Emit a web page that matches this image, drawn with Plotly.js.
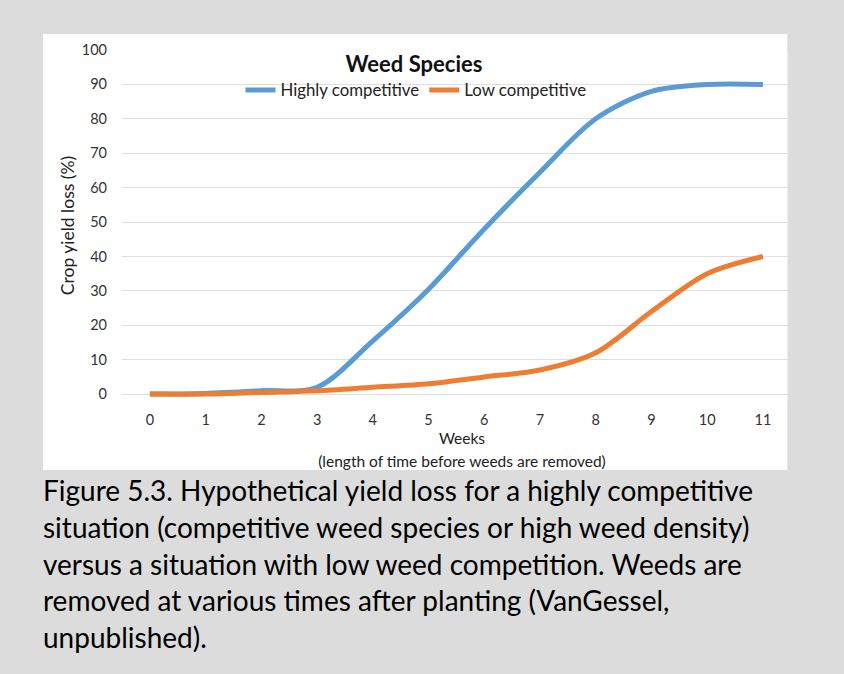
<!DOCTYPE html>
<html><head><meta charset="utf-8">
<script src="https://cdn.plot.ly/plotly-3.0.1.min.js"></script>
<style>html,body{margin:0;padding:0;background:#dcdcdc;} #chart{width:844px;height:674px;}</style>
</head><body><div id="chart"></div>
<script>
// ---- data ----
const weeks = [0, 1, 2, 3, 4, 5, 6, 7, 8, 9, 10, 11];
const weekLabels = ['0', '1', '2', '3', '4', '5', '6', '7', '8', '9', '10', '11'];
const highlyCompetitive = [0, 0.2, 1, 2, 15.5, 30.5, 48, 64.5, 80, 88, 90, 90];
const lowCompetitive = [0, 0, 0.5, 1, 2, 3, 5, 7, 12, 24, 35, 40];
const seriesNames = ['Highly competitive', 'Low competitive'];
const yTickVals = [0, 10, 20, 30, 40, 50, 60, 70, 80, 90, 100];
const chartTitle = 'Weed Species';
const xTitle = 'Weeks';
const xSubtitle = '(length of time before weeds are removed)';
const yTitle = 'Crop yield loss (%)';
const captionLines = [
  'Figure 5.3. Hypothetical yield loss for a highly competitive',
  'situation (competitive weed species or high weed density)',
  'versus a situation with low weed competition. Weeds are',
  'removed at various times after planting (VanGessel,',
  'unpublished).'
];

// ---- layout geometry (pixels) ----
const L = 122, R = 802, T = 50, B = 401;   // plot area (right part is hidden by the page crop)
const W = R - L, H = B - T;
const px = v => (v - L) / W;
const py = v => (B - v) / H;
const FONT = 'Lato, "Liberation Sans", sans-serif';
const GREY = '#dcdcdc';

const traces = [
  {x: weeks, y: highlyCompetitive, name: seriesNames[0], type: 'scatter', mode: 'lines',
   line: {color: '#5B9BD5', width: 5, shape: 'spline', smoothing: 0.9}},
  {x: weeks, y: lowCompetitive, name: seriesNames[1], type: 'scatter', mode: 'lines',
   line: {color: '#ED7D31', width: 5, shape: 'spline', smoothing: 0.9}}
];

const captionY0 = 490, captionStep = 36.8;
const annotations = captionLines.map((t, i) => ({
  text: t, xref: 'paper', yref: 'paper', x: px(42), y: py(captionY0 + i * captionStep),
  xanchor: 'left', yanchor: 'middle', showarrow: false, borderpad: 0,
  font: {family: FONT, size: 28, color: '#000'}
}));

const layout = {
  width: 844, height: 674,
  margin: {l: L, r: 844 - R, t: T, b: 674 - B, pad: 0},
  paper_bgcolor: GREY, plot_bgcolor: '#ffffff',
  showlegend: true,
  title: {text: '<b>' + chartTitle + '</b>', x: 414 / 844, xanchor: 'center',
          y: 1 - 64 / 674, yanchor: 'middle', yref: 'container', xref: 'container',
          font: {family: FONT, size: 22, color: '#111'}},
  legend: {orientation: 'h', x: (416 - L) / W, xanchor: 'center', y: py(90), yanchor: 'middle',
           bgcolor: 'rgba(0,0,0,0)', font: {family: FONT, size: 16.8, color: '#222'},
           traceorder: 'normal'},
  xaxis: {range: [(L - 149.9) / 55.73, (R - 149.9) / 55.73], tickvals: weeks, ticktext: weekLabels,
          showgrid: false, zeroline: false, showline: false, ticks: '',
          ticklabelstandoff: 8,
          tickfont: {family: FONT, size: 14.5, color: '#333'},
          title: {text: "<span style='font-size:15.5px'>" + xTitle + "</span><br><span style='font-size:15.5px'>" + xSubtitle + "</span>",
                  font: {family: FONT, size: 17.5, color: '#222'}, standoff: 5},
          fixedrange: true},
  yaxis: {range: [-2, 100], tickvals: yTickVals, showgrid: true, gridcolor: '#dedede', gridwidth: 1,
          zeroline: false, showline: false, ticks: '', ticklabelstandoff: 14,
          tickfont: {family: FONT, size: 14.5, color: '#333'},
          title: {text: yTitle, font: {family: FONT, size: 17.5, color: '#222'}, standoff: 2},
          fixedrange: true},
  shapes: [
    {type: 'rect', xref: 'paper', yref: 'paper', x0: px(43), x1: px(787.5), y0: py(470), y1: py(34),
     fillcolor: '#ffffff', line: {width: 0}, layer: 'below'},
    {type: 'rect', xref: 'paper', yref: 'paper', x0: px(787.5), x1: px(850), y0: py(680), y1: py(-6),
     fillcolor: GREY, line: {width: 0}, layer: 'above'}
  ],
  annotations: annotations
};

Plotly.newPlot('chart', traces, layout, {displayModeBar: false, staticPlot: true});
</script>
</body></html>
